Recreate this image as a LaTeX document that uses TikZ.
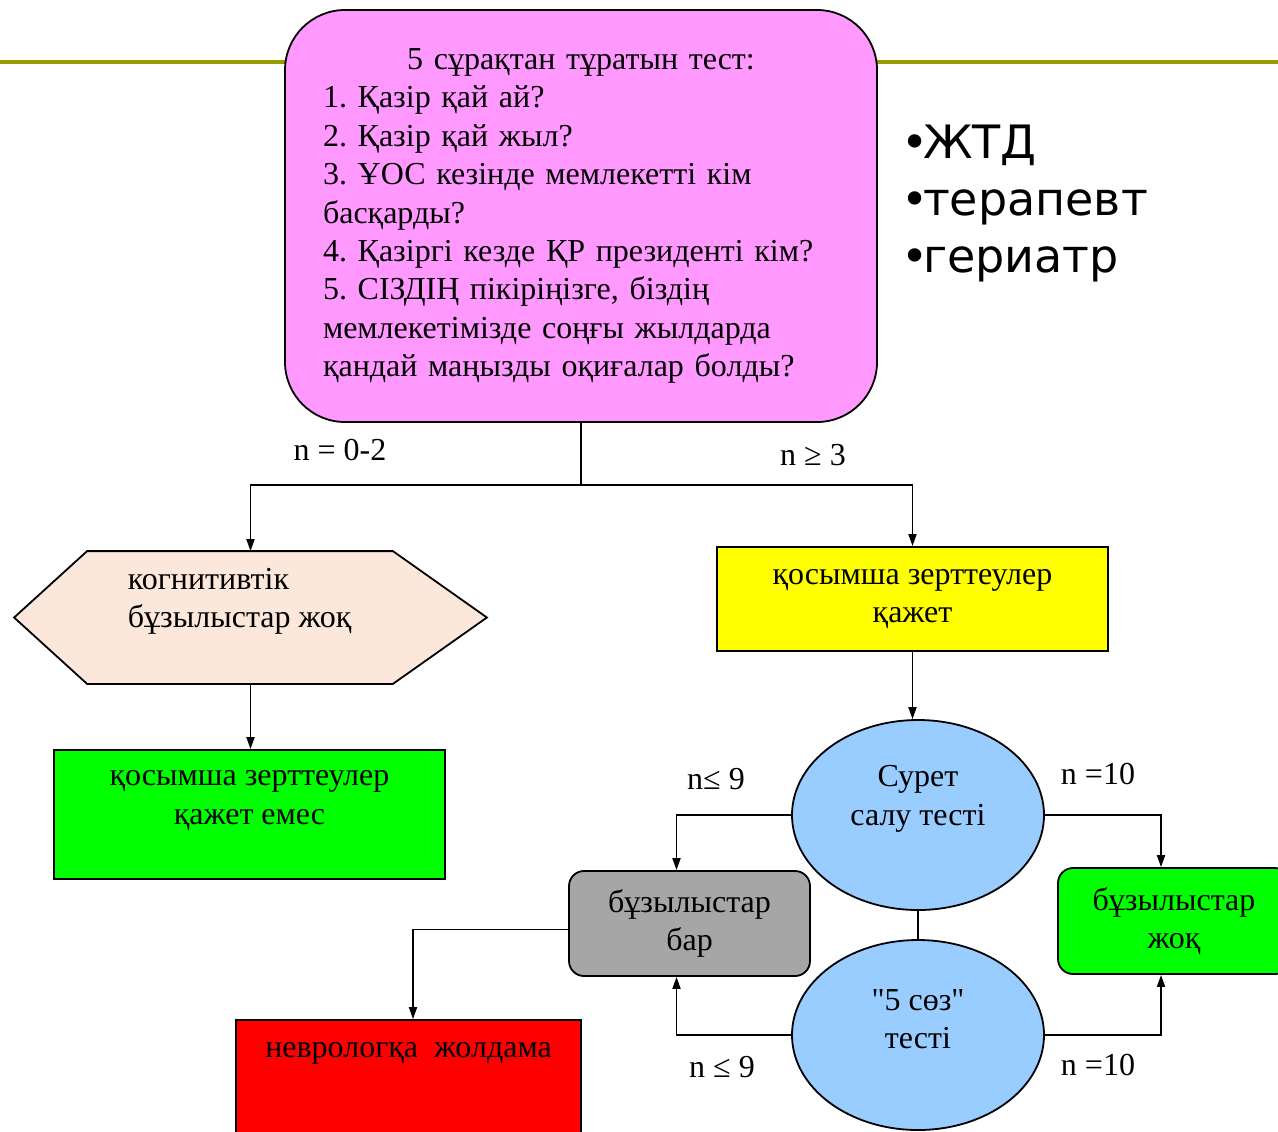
\documentclass[tikz,border=0pt]{standalone}
\usepackage{fontspec}
\setmainfont{Liberation Serif}
\newfontfamily\plainserif{Liberation Serif}
\newfontfamily\listfont{DejaVu Sans}
\usepackage{xcolor}
\usetikzlibrary{arrows.meta,shapes.geometric}
\frenchspacing

\definecolor{ruleolive}{RGB}{153,153,0}
\definecolor{testpink}{RGB}{255,153,255}
\definecolor{hexpeach}{RGB}{252,232,218}
\definecolor{okgreen}{RGB}{0,255,0}
\definecolor{askyellow}{RGB}{255,255,0}
\definecolor{testblue}{RGB}{153,204,255}
\definecolor{bargray}{RGB}{166,166,166}
\definecolor{sendred}{RGB}{255,0,0}

\tikzset{
  arr/.style={-{Triangle[length=6pt,width=4pt]}},
  txt/.style={font=\fontsize{16}{19.2}\selectfont},
  boxtxt/.style={txt, align=center},
  box/.style={draw, boxtxt, inner sep=0pt},
}

\begin{document}
\begin{tikzpicture}[x=0.5pt, y=-0.5pt, line width=0.9pt]
    \clip (0,0) rectangle (1278,1131);

    \draw[line width=2pt, color=ruleolive] (0,62) -- (1278,62);

    \node[box, align=left, rounded corners=30pt, fill=testpink, minimum width=296pt, minimum height=206pt, text width=258pt] (test) at (581,216)
        {\makebox[\linewidth]{5 сұрақтан тұратын тест:}\\
         1. Қазір қай ай?\\
         2. Қазір қай жыл?\\
         3. ҰОС кезінде мемлекетті кім\\
         басқарды?\\
         4. Қазіргі кезде ҚР президенті кім?\\
         5. СІЗДІҢ пікіріңізге, біздің\\
         мемлекетімізде соңғы жылдарда\\
         қандай маңызды оқиғалар болды?};

    \node[anchor=base west, align=left, inner sep=0pt, font=\listfont\fontsize{23}{28.5}\selectfont] (roles) at (901,272)
        {•\kern-3ptЖТД\\•\kern-3ptтерапевт\\•\kern-3ptгериатр};

    \node[inner sep=0pt, minimum width=235.5pt, minimum height=65.5pt] (hex) at (250.5,617.5) {};
    \draw[fill=hexpeach] (hex.west) -- ([xshift=36.5pt]hex.north west) -- ([xshift=-47pt]hex.north east)
        -- (hex.east) -- ([xshift=-47pt]hex.south east) -- ([xshift=36.5pt]hex.south west) -- cycle;
    \node[boxtxt, align=left, anchor=west, inner sep=0pt] (hextxt) at (127,601) {когнитивтік\\бұзылыстар жоқ};

    \node[box, fill=okgreen, minimum width=195.5pt, minimum height=64.5pt,
          label={[boxtxt, yshift=7pt]center:қосымша зерттеулер\\қажет емес}] (noneed) at (249.5,814.5) {};
    \node[box, fill=askyellow, minimum width=195.5pt, minimum height=52pt] (need) at (912.5,599) {қосымша зерттеулер\\қажет};

    \node[box, ellipse, fill=testblue, minimum width=126pt, minimum height=95pt,
          label={[boxtxt, yshift=8pt]center:Сурет\\салу тесті}] (draw) at (918,815) {};
    \node[box, ellipse, fill=testblue, minimum width=126pt, minimum height=95pt,
          label={[boxtxt, yshift=8pt]center:{\plainserif"5 сөз"}\\тесті}] (words) at (918,1035) {};

    \node[box, rounded corners=7.5pt, fill=bargray, minimum width=120.5pt, minimum height=52.5pt] (bar) at (689.5,923.5) {бұзылыстар\\бар};
    \node[box, rounded corners=7.5pt, fill=okgreen, minimum width=116pt, minimum height=53pt] (jok) at (1174,921) {бұзылыстар\\жоқ};
    \node[box, fill=sendred, minimum width=172.5pt, minimum height=65pt,
          label={[boxtxt, yshift=16pt]center:неврологқа~ жолдама}] (neuro) at (408.5,1085) {};

    \draw (test.south) -- ++(0,62) coordinate (fork);
    \draw[arr] (fork) -| (hex.north);
    \draw[arr] (fork) -| (need.north);
    \draw[arr] (hex.south) -- (hex.south |- noneed.north);
    \draw[arr] (need.south) -- (need.south |- draw.north);
    \draw (draw) -- (words);
    \draw[arr] (draw.west) -| ([xshift=-6.5pt]bar.north);
    \draw[arr] (words.west) -| ([xshift=-6.5pt]bar.south);
    \draw[arr] (draw.east) -| ([xshift=-6.5pt]jok.north);
    \draw[arr] (words.east) -| ([xshift=-6.5pt]jok.south);
    \draw[arr] ([yshift=-3pt]bar.west) -| ([xshift=2.25pt]neuro.north);

    \node[txt] (lowtop) at (340,450) {n = 0-2};
    \node[txt] (hightop) at (813,455) {n ≥ 3};
    \node[txt] (lowdraw) at (716,779) {n≤ 9};
    \node[txt] (highdraw) at (1098,774) {n =10};
    \node[txt] (lowwords) at (722,1067) {n ≤ 9};
    \node[txt] (highwords) at (1098,1065) {n =10};
\end{tikzpicture}
\end{document}
